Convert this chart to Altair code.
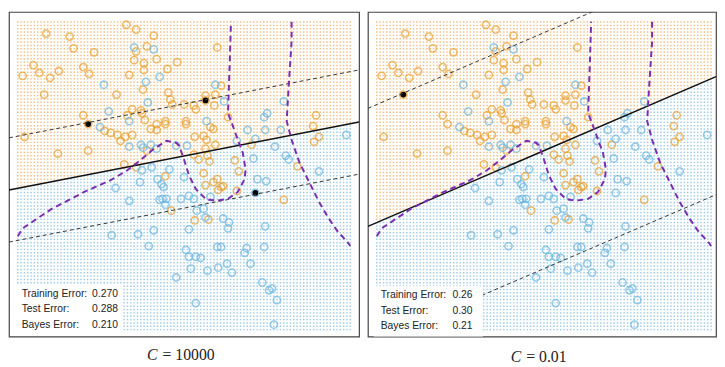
import altair as alt
import numpy as np
import pandas as pd

# ---- training data (feature space: x1 to the right, x2 upward) ----
orange_x1 = [120,130,38,62,148,66,87,141,130,151,128,138,172,25,31,51,42,14,76,82,123,138,162,
             36,110,137,163,165,167,76,126,135,136,121,139,160,213,217,201,211,179,189,191,210,224,
             314,181,16,50,81,98,104,111,114,119,126,145,151,160,151,141,118,130,160,166,181,206,
             209,190,199,202,211,201,189,203,194,205,231,248,199,235,201,209,213,214,217,219,233,
             190,204,281,295,311,317,312,81,201]
orange_x2 = [317,312,308,305,306,293,289,295,290,282,281,278,279,276,268,270,263,265,274,267,266,271,272,
             246,246,251,248,241,236,225,231,230,227,225,220,219,294,255,245,246,236,235,231,235,223,
             225,219,203,186,189,209,207,205,199,203,205,211,216,216,210,189,175,172,163,128,216,213,
             211,203,204,200,195,191,185,184,180,178,179,195,166,168,154,157,160,149,152,153,148,
             118,119,139,173,214,203,198,216,240]
blue_x1 = [128,148,154,140,97,142,102,123,211,220,281,264,261,202,93,123,135,137,145,151,136,146,164,
           134,152,156,158,109,123,154,157,161,160,171,182,244,262,278,252,233,272,250,283,286,345,
           317,254,263,179,176,184,189,206,199,192,219,225,201,262,224,184,105,132,148,143,171,181,
           184,191,196,213,217,243,241,261,186,203,214,223,228,247,259,266,269,274,191,271,252]
blue_x2 = [294,292,264,259,256,238,229,219,256,239,239,227,223,219,213,193,195,192,195,191,169,172,170,
           157,160,155,152,151,138,139,140,140,134,194,194,210,210,210,201,199,193,181,184,180,205,
           168,160,158,162,140,143,140,142,130,128,120,116,121,112,110,109,103,104,108,92,60,88,
           81,81,80,91,91,90,85,91,69,67,70,74,65,74,55,47,49,37,34,12,146]

# support vectors drawn in black (index into the lists above)
sv_left_orange = [-2, -1]
sv_left_blue = [-1]
sv_right_orange = [23]

# fitted linear boundaries: intercept, slope, half-margin
fits = {"left": (149, 0.193, 53), "right": (112, 0.430, 120)}

# Bayes decision boundary (two branches)
bayes_a_x1 = [9,14,44,77,104,121,134,147,161,171,174,179,184,191,201,211,224,234,241,242,239,234,229,224,225,226,227]
bayes_a_x2 = [102,110,130,147,159,169,179,190,199,197,194,180,164,150,140,138,140,147,160,170,187,200,214,227,257,287,320]
bayes_b_x1 = [289,289,286,284,289,297,307,317,327,336,347,349]
bayes_b_x2 = [320,300,254,219,200,177,157,137,120,107,95,92]

err_labels = ["Training Error:", "Test Error:", "Bayes Error:"]
err_left = ["0.270", "0.288", "0.210"]
err_right = ["0.26", "0.30", "0.21"]
captions = {"left": "= 10000", "right": "= 0.01"}

ORANGE = "#E8A02E"
BLUE = "#6BB6DF"

pts = pd.DataFrame({
    "x1": orange_x1 + blue_x1,
    "x2": orange_x2 + blue_x2,
    "cls": ["orange"] * len(orange_x1) + ["blue"] * len(blue_x1),
})
bayes = pd.DataFrame({
    "x1": bayes_a_x1 + bayes_b_x1,
    "x2": bayes_a_x2 + bayes_b_x2,
    "branch": ["a"] * len(bayes_a_x1) + ["b"] * len(bayes_b_x1),
    "k": list(range(len(bayes_a_x1))) + list(range(len(bayes_b_x1))),
})

gx, gy = np.meshgrid(np.arange(9, 350, 3.4), np.arange(7, 321, 3.4))
grid_base = pd.DataFrame({"x1": gx.ravel(), "x2": gy.ravel()})


def panel(side, width, xmax, sv_o, sv_b, errs, box, lab_x, num_x, rows_y, cap_x, cap_y):
    b, m, h = fits[side]
    X = alt.X("x1:Q", scale=alt.Scale(domain=[0, xmax], nice=False, zero=False), axis=None)
    Y = alt.Y("x2:Q", scale=alt.Scale(domain=[0, 330], nice=False, zero=False), axis=None)

    g = grid_base.copy()
    g["region"] = np.where(g["x2"] > b + m * g["x1"], "orange", "blue")
    grid = alt.Chart(g).mark_square(size=2.2, opacity=0.85).encode(
        x=X, y=Y,
        fill=alt.Fill("region:N", scale=alt.Scale(domain=["orange", "blue"],
                                                  range=["#EDB470", "#8EC1E0"]), legend=None))

    points = alt.Chart(pts).mark_point(shape="circle", filled=False, size=54, strokeWidth=1.6).encode(
        x=X, y=Y,
        stroke=alt.Stroke("cls:N", scale=alt.Scale(domain=["orange", "blue"], range=[ORANGE, BLUE]),
                          legend=None))

    sv = pd.DataFrame({
        "x1": [orange_x1[i] for i in sv_o] + [blue_x1[i] for i in sv_b],
        "x2": [orange_x2[i] for i in sv_o] + [blue_x2[i] for i in sv_b],
    })
    svm = alt.Chart(sv).mark_circle(size=34, color="black", opacity=1).encode(x=X, y=Y)

    lines = pd.DataFrame({
        "kind": ["solid", "dash", "dash"],
        "off": [0, h, -h],
    })
    lines["x1"] = 0
    lines["x1e"] = xmax
    lines["x2"] = b + lines["off"]
    lines["x2e"] = b + lines["off"] + m * xmax
    solid = alt.Chart(lines[lines.kind == "solid"]).mark_rule(color="#111", strokeWidth=1.5, clip=True).encode(
        x=X, y=Y, x2="x1e:Q", y2="x2e:Q")
    dashed = alt.Chart(lines[lines.kind == "dash"]).mark_rule(
        color="#333", strokeWidth=1, strokeDash=[4, 3], clip=True).encode(x=X, y=Y, x2="x1e:Q", y2="x2e:Q")

    purple = alt.Chart(bayes).mark_line(color="#7B2CB0", strokeWidth=2, strokeDash=[6, 4]).encode(
        x=X, y=Y, detail="branch:N", order="k:Q")

    boxdf = pd.DataFrame({"x1": [box[0]], "x1e": [box[1]], "x2": [box[2]], "x2e": [box[3]]})
    boxm = alt.Chart(boxdf).mark_rect(fill="white", clip=True).encode(x=X, y=Y, x2="x1e:Q", y2="x2e:Q")

    tdf = pd.DataFrame({"lab": err_labels, "val": errs, "x2": rows_y,
                        "lx": [lab_x] * 3, "nx": [num_x] * 3})
    labs = alt.Chart(tdf).mark_text(align="left", baseline="middle", font="Liberation Sans",
                                    fontSize=10.5, color="#222").encode(
        x=alt.X("lx:Q", scale=alt.Scale(domain=[0, xmax], nice=False, zero=False), axis=None),
        y=Y, text="lab:N")
    nums = alt.Chart(tdf).mark_text(align="left", baseline="middle", font="Liberation Sans",
                                    fontSize=10.5, color="#222").encode(
        x=alt.X("nx:Q", scale=alt.Scale(domain=[0, xmax], nice=False, zero=False), axis=None),
        y=Y, text="val:N")

    cdf = pd.DataFrame({"x1": [cap_x], "x2": [cap_y], "c": ["C"], "rest": [captions[side]]})
    cap_c = alt.Chart(cdf).mark_text(align="right", baseline="middle", font="Liberation Serif",
                                     fontStyle="italic", fontSize=16, dx=-2, color="#222").encode(
        x=X, y=Y, text="c:N")
    cap_r = alt.Chart(cdf).mark_text(align="left", baseline="middle", font="Liberation Serif",
                                     fontSize=16, dx=3, color="#222").encode(
        x=X, y=Y, text="rest:N")

    return alt.layer(grid, points, svm, solid, dashed, purple, boxm, labs, nums, cap_c, cap_r).properties(
        width=width, height=330)


left = panel("left", 356, 358, sv_left_orange, sv_left_blue, err_left,
             (7, 116, 4, 53), 13, 85, [43, 28, 12], 154, -19)
right = panel("right", 354, 354, sv_right_orange, [], err_right,
              (6, 117, -5, 51), 13, 86, [42, 26, 11], 158, -20.5)

chart = alt.hconcat(left, right, spacing=7).resolve_scale(
    x="independent", y="independent", fill="independent", stroke="independent"
).configure_view(stroke="#444", strokeWidth=1.2).properties(padding=0)

chart.save("out.html", embed_options={"renderer": "svg", "actions": False})
